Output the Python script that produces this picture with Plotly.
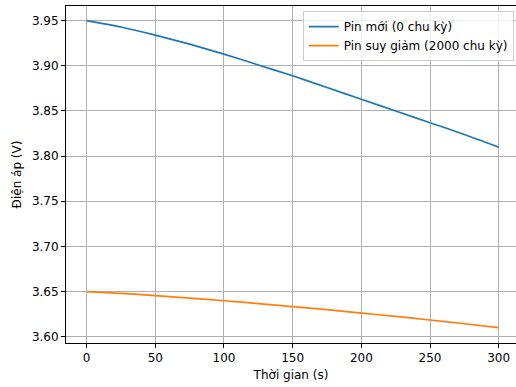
import plotly.graph_objects as go

time_s = [0, 25, 50, 75, 100, 125, 150, 175, 200, 225, 250, 275, 300]
v_new = [3.950, 3.943, 3.934, 3.924, 3.913, 3.901, 3.889, 3.876, 3.863, 3.850, 3.837, 3.824, 3.810]
v_old = [3.650, 3.648, 3.6455, 3.6428, 3.6398, 3.6367, 3.6334, 3.6299, 3.6262, 3.6224, 3.6185, 3.6143, 3.610]
x_ticks = [0, 50, 100, 150, 200, 250, 300]
y_ticks = [3.60, 3.65, 3.70, 3.75, 3.80, 3.85, 3.90, 3.95]

fig = go.Figure()
fig.add_trace(go.Scatter(x=time_s, y=v_new, mode="lines", name="Pin mới (0 chu kỳ)",
                         line=dict(color="#1f77b4", width=1.7, shape="spline", smoothing=0.6)))
fig.add_trace(go.Scatter(x=time_s, y=v_old, mode="lines", name="Pin suy giảm (2000 chu kỳ)",
                         line=dict(color="#ff7f0e", width=1.7, shape="spline", smoothing=0.6)))

axis_common = dict(showgrid=True, gridcolor="#b0b0b0", gridwidth=0.8,
                   showline=True, linecolor="black", linewidth=1,
                   ticks="outside", ticklen=4, tickcolor="black", tickwidth=1,
                   zeroline=False, tickfont=dict(size=12, color="black"))

fig.update_xaxes(range=[-15, 312.6], tickvals=x_ticks, ticktext=[str(t) for t in x_ticks],
                 mirror=True,
                 title=dict(text="Thời gian (s)", font=dict(size=12, color="black"), standoff=6),
                 **axis_common)
fig.update_yaxes(range=[3.593, 3.9663], tickvals=y_ticks, ticktext=[f"{t:.2f}" for t in y_ticks],
                 mirror=False,
                 title=dict(text="Điện áp (V)", font=dict(size=12, color="black"), standoff=7),
                 **axis_common)

fig.update_layout(
    width=516, height=387,
    margin=dict(l=66, r=0, t=6, b=44),
    paper_bgcolor="white", plot_bgcolor="white",
    font=dict(family="DejaVu Sans", size=12, color="black"),
    legend=dict(x=0.995, y=0.985, xanchor="right", yanchor="top",
                bgcolor="rgba(255,255,255,0.8)", bordercolor="#cccccc", borderwidth=1,
                font=dict(size=12), tracegroupgap=0),
    showlegend=True,
)

fig.write_html("out.html", config={"displayModeBar": False},
               post_script="document.body.style.margin='0';document.body.style.overflow='hidden';")
